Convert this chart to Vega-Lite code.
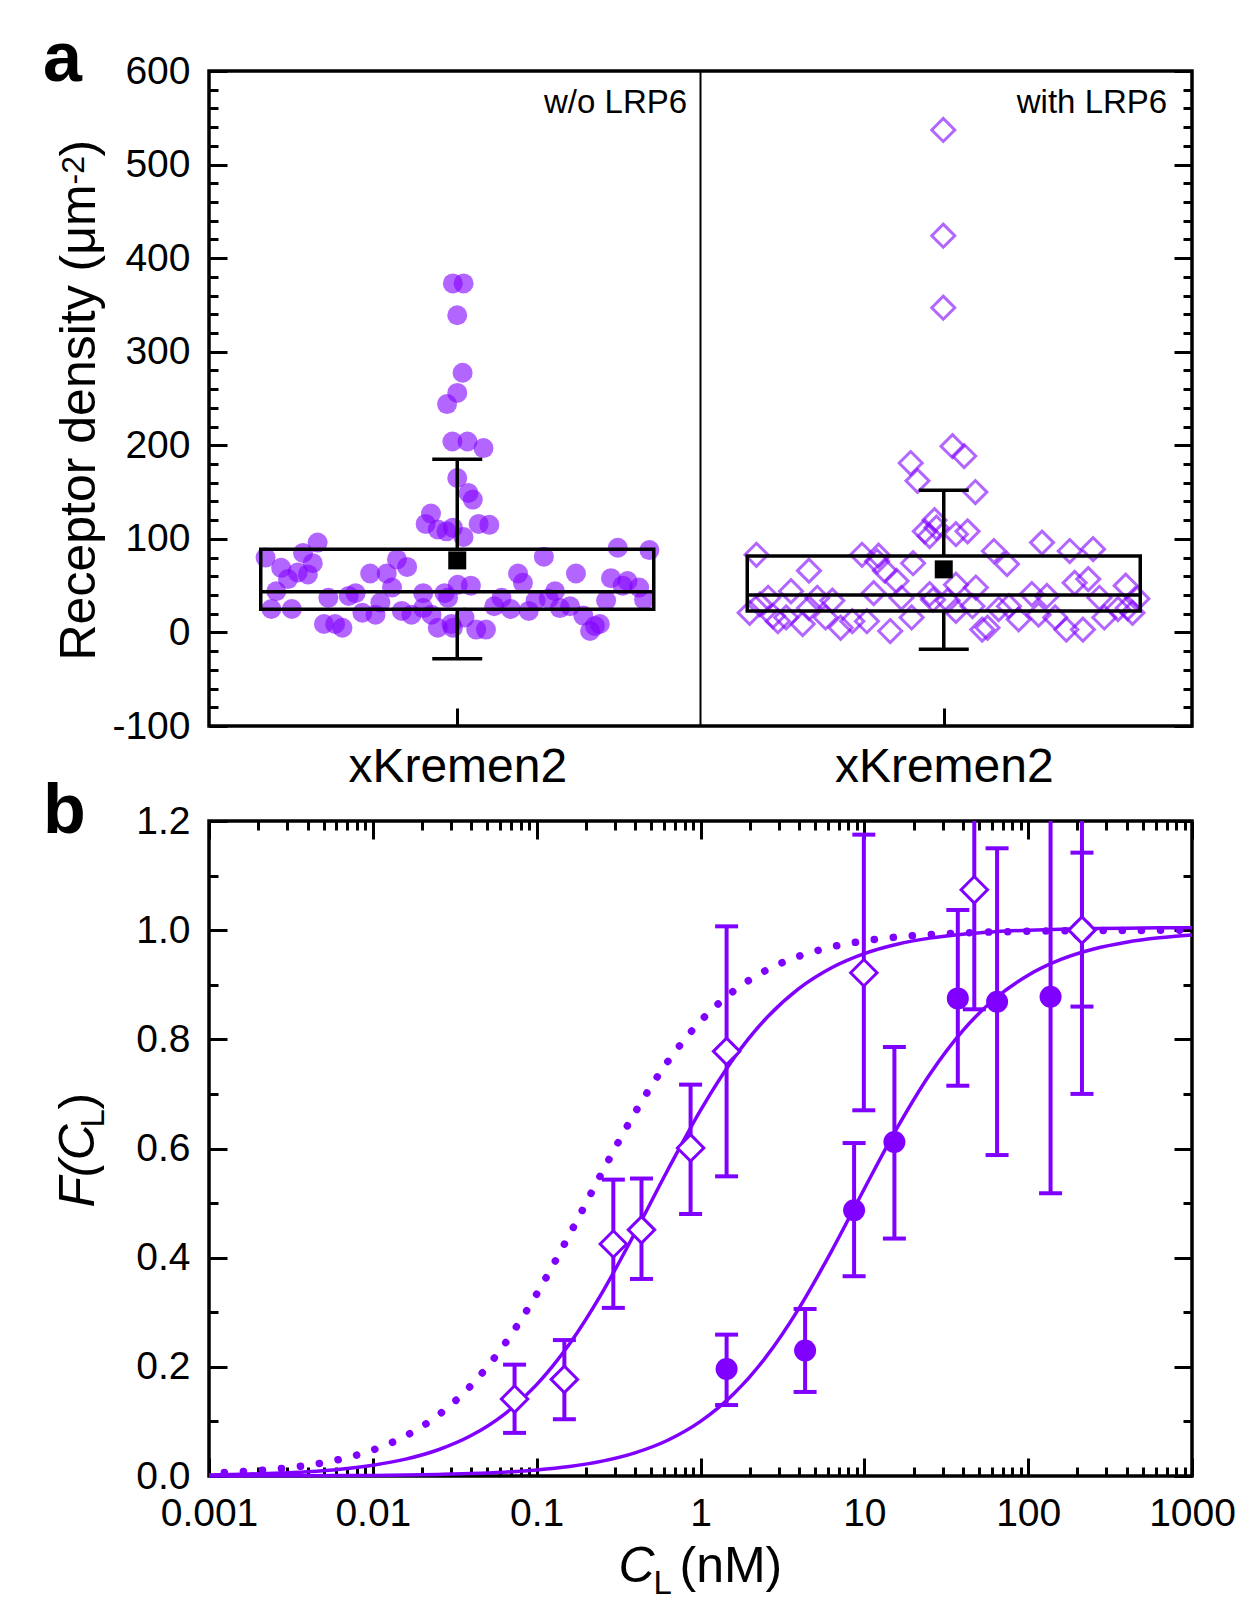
{
  "$schema": "https://vega.github.io/schema/vega-lite/v6.json",
  "background": "white",
  "padding": {"left": 41, "top": 23, "right": 10, "bottom": 10},
  "spacing": 95,
  "bounds": "flush",
  "config": {
    "font": "Liberation Sans",
    "view": {"stroke": "black", "strokeWidth": 3.5},
    "axis": {"grid": false, "domain": false, "tickColor": "black", "tickWidth": 3, "labelColor": "black", "labelFontSize": 39, "labelFont": "Liberation Sans", "titleFont": "Liberation Sans", "titleColor": "black", "titleFontWeight": "normal", "labelOverlap": false, "labelFlush": false, "labelBound": false, "labelLimit": 0},
    "title": {"color": "black", "font": "Liberation Sans"}
  },
  "datasets": {
    "dens": [
      {"g":"w/o LRP6","pos":0.491,"v":373},{"g":"w/o LRP6","pos":0.513,"v":373},{"g":"w/o LRP6","pos":0.500,"v":339},{"g":"w/o LRP6","pos":0.511,"v":277.5},{"g":"w/o LRP6","pos":0.500,"v":256},
      {"g":"w/o LRP6","pos":0.479,"v":244},{"g":"w/o LRP6","pos":0.490,"v":204},{"g":"w/o LRP6","pos":0.521,"v":204},{"g":"w/o LRP6","pos":0.554,"v":197},{"g":"w/o LRP6","pos":0.500,"v":165},
      {"g":"w/o LRP6","pos":0.523,"v":149},{"g":"w/o LRP6","pos":0.532,"v":142},{"g":"w/o LRP6","pos":0.446,"v":127},{"g":"w/o LRP6","pos":0.435,"v":116},{"g":"w/o LRP6","pos":0.460,"v":110},
      {"g":"w/o LRP6","pos":0.478,"v":108},{"g":"w/o LRP6","pos":0.491,"v":112},{"g":"w/o LRP6","pos":0.513,"v":102},{"g":"w/o LRP6","pos":0.544,"v":116},{"g":"w/o LRP6","pos":0.566,"v":115},
      {"g":"w/o LRP6","pos":0.106,"v":80},{"g":"w/o LRP6","pos":0.138,"v":69},{"g":"w/o LRP6","pos":0.183,"v":85},{"g":"w/o LRP6","pos":0.213,"v":96},{"g":"w/o LRP6","pos":0.203,"v":74},
      {"g":"w/o LRP6","pos":0.152,"v":57},{"g":"w/o LRP6","pos":0.172,"v":64},{"g":"w/o LRP6","pos":0.193,"v":62},{"g":"w/o LRP6","pos":0.128,"v":44},{"g":"w/o LRP6","pos":0.118,"v":25},
      {"g":"w/o LRP6","pos":0.160,"v":25},{"g":"w/o LRP6","pos":0.235,"v":37},{"g":"w/o LRP6","pos":0.291,"v":42},{"g":"w/o LRP6","pos":0.277,"v":39},{"g":"w/o LRP6","pos":0.321,"v":63},
      {"g":"w/o LRP6","pos":0.355,"v":63},{"g":"w/o LRP6","pos":0.376,"v":78},{"g":"w/o LRP6","pos":0.397,"v":70},{"g":"w/o LRP6","pos":0.366,"v":48},{"g":"w/o LRP6","pos":0.342,"v":32},
      {"g":"w/o LRP6","pos":0.305,"v":21},{"g":"w/o LRP6","pos":0.332,"v":19},{"g":"w/o LRP6","pos":0.386,"v":23},{"g":"w/o LRP6","pos":0.406,"v":19},{"g":"w/o LRP6","pos":0.430,"v":42},
      {"g":"w/o LRP6","pos":0.430,"v":26},{"g":"w/o LRP6","pos":0.447,"v":19},{"g":"w/o LRP6","pos":0.474,"v":42},{"g":"w/o LRP6","pos":0.501,"v":51},{"g":"w/o LRP6","pos":0.226,"v":9},
      {"g":"w/o LRP6","pos":0.249,"v":9},{"g":"w/o LRP6","pos":0.264,"v":5},{"g":"w/o LRP6","pos":0.460,"v":5},{"g":"w/o LRP6","pos":0.491,"v":5},{"g":"w/o LRP6","pos":0.830,"v":90.5},
      {"g":"w/o LRP6","pos":0.895,"v":88},{"g":"w/o LRP6","pos":0.678,"v":81},{"g":"w/o LRP6","pos":0.744,"v":63},{"g":"w/o LRP6","pos":0.625,"v":63},{"g":"w/o LRP6","pos":0.635,"v":53},
      {"g":"w/o LRP6","pos":0.816,"v":58},{"g":"w/o LRP6","pos":0.850,"v":55},{"g":"w/o LRP6","pos":0.874,"v":48},{"g":"w/o LRP6","pos":0.840,"v":50},{"g":"w/o LRP6","pos":0.884,"v":35},
      {"g":"w/o LRP6","pos":0.806,"v":34},{"g":"w/o LRP6","pos":0.701,"v":44},{"g":"w/o LRP6","pos":0.688,"v":36},{"g":"w/o LRP6","pos":0.661,"v":34},{"g":"w/o LRP6","pos":0.528,"v":50},
      {"g":"w/o LRP6","pos":0.481,"v":37},{"g":"w/o LRP6","pos":0.591,"v":37},{"g":"w/o LRP6","pos":0.576,"v":28},{"g":"w/o LRP6","pos":0.610,"v":25},{"g":"w/o LRP6","pos":0.647,"v":23},
      {"g":"w/o LRP6","pos":0.711,"v":26},{"g":"w/o LRP6","pos":0.732,"v":28},{"g":"w/o LRP6","pos":0.759,"v":18},{"g":"w/o LRP6","pos":0.773,"v":1.5},{"g":"w/o LRP6","pos":0.793,"v":9},
      {"g":"w/o LRP6","pos":0.783,"v":7},{"g":"w/o LRP6","pos":0.539,"v":3},{"g":"w/o LRP6","pos":0.559,"v":3},{"g":"w/o LRP6","pos":0.515,"v":16},{"g":"w/o LRP6","pos":0.488,"v":9},
      {"g":"with LRP6","pos":1.499,"v":537},{"g":"with LRP6","pos":1.499,"v":424},{"g":"with LRP6","pos":1.499,"v":347},{"g":"with LRP6","pos":1.518,"v":199},{"g":"with LRP6","pos":1.542,"v":188.5},
      {"g":"with LRP6","pos":1.432,"v":181},{"g":"with LRP6","pos":1.446,"v":162},{"g":"with LRP6","pos":1.565,"v":150},{"g":"with LRP6","pos":1.481,"v":120},{"g":"with LRP6","pos":1.461,"v":108},
      {"g":"with LRP6","pos":1.471,"v":103},{"g":"with LRP6","pos":1.549,"v":108},{"g":"with LRP6","pos":1.525,"v":105},{"g":"with LRP6","pos":1.485,"v":112},{"g":"with LRP6","pos":1.332,"v":83},
      {"g":"with LRP6","pos":1.366,"v":82},{"g":"with LRP6","pos":1.603,"v":87},{"g":"with LRP6","pos":1.115,"v":83},{"g":"with LRP6","pos":1.223,"v":66},{"g":"with LRP6","pos":1.363,"v":76},
      {"g":"with LRP6","pos":1.379,"v":66},{"g":"with LRP6","pos":1.403,"v":55},{"g":"with LRP6","pos":1.437,"v":74},{"g":"with LRP6","pos":1.139,"v":37},{"g":"with LRP6","pos":1.186,"v":44},
      {"g":"with LRP6","pos":1.240,"v":37},{"g":"with LRP6","pos":1.271,"v":34},{"g":"with LRP6","pos":1.356,"v":42},{"g":"with LRP6","pos":1.413,"v":37},{"g":"with LRP6","pos":1.471,"v":41},
      {"g":"with LRP6","pos":1.101,"v":21},{"g":"with LRP6","pos":1.159,"v":12},{"g":"with LRP6","pos":1.149,"v":17.5},{"g":"with LRP6","pos":1.210,"v":9},{"g":"with LRP6","pos":1.176,"v":16},
      {"g":"with LRP6","pos":1.257,"v":16},{"g":"with LRP6","pos":1.288,"v":5},{"g":"with LRP6","pos":1.312,"v":12},{"g":"with LRP6","pos":1.342,"v":12},{"g":"with LRP6","pos":1.390,"v":1.5},
      {"g":"with LRP6","pos":1.434,"v":16},{"g":"with LRP6","pos":1.223,"v":26},{"g":"with LRP6","pos":1.122,"v":30},{"g":"with LRP6","pos":1.702,"v":96},{"g":"with LRP6","pos":1.759,"v":87},
      {"g":"with LRP6","pos":1.807,"v":89},{"g":"with LRP6","pos":1.630,"v":73},{"g":"with LRP6","pos":1.769,"v":53},{"g":"with LRP6","pos":1.797,"v":57},{"g":"with LRP6","pos":1.874,"v":50},
      {"g":"with LRP6","pos":1.525,"v":51},{"g":"with LRP6","pos":1.566,"v":48},{"g":"with LRP6","pos":1.478,"v":35},{"g":"with LRP6","pos":1.525,"v":23},{"g":"with LRP6","pos":1.559,"v":28},
      {"g":"with LRP6","pos":1.613,"v":25},{"g":"with LRP6","pos":1.634,"v":28},{"g":"with LRP6","pos":1.681,"v":41},{"g":"with LRP6","pos":1.712,"v":39},{"g":"with LRP6","pos":1.654,"v":14},
      {"g":"with LRP6","pos":1.695,"v":19},{"g":"with LRP6","pos":1.729,"v":16},{"g":"with LRP6","pos":1.752,"v":3},{"g":"with LRP6","pos":1.786,"v":3},{"g":"with LRP6","pos":1.820,"v":37},
      {"g":"with LRP6","pos":1.830,"v":16},{"g":"with LRP6","pos":1.858,"v":25},{"g":"with LRP6","pos":1.878,"v":26},{"g":"with LRP6","pos":1.579,"v":3},{"g":"with LRP6","pos":1.590,"v":5},
      {"g":"with LRP6","pos":1.508,"v":34},{"g":"with LRP6","pos":1.898,"v":36},{"g":"with LRP6","pos":1.888,"v":21}
    ],
    "stats": [
      {"g":"w/o LRP6","c":0.5,"q1":24.7,"med":43.5,"q3":88.8,"mean":77,"lo":-28,"hi":185},
      {"g":"with LRP6","c":1.5,"q1":23,"med":40,"q3":81.6,"mean":67.4,"lo":-18,"hi":152}
    ],
    "curves": [
      {"k":"fit1","x":0.001,"F":0.0020},{"k":"fit1","x":0.001585,"F":0.0032},{"k":"fit1","x":0.002512,"F":0.0050},{"k":"fit1","x":0.003981,"F":0.0079},{"k":"fit1","x":0.00631,"F":0.0125},
      {"k":"fit1","x":0.01,"F":0.0197},{"k":"fit1","x":0.01585,"F":0.0309},{"k":"fit1","x":0.02512,"F":0.0481},{"k":"fit1","x":0.03981,"F":0.0741},{"k":"fit1","x":0.0631,"F":0.1126},
      {"k":"fit1","x":0.1,"F":0.1675},{"k":"fit1","x":0.1585,"F":0.2419},{"k":"fit1","x":0.2512,"F":0.3361},{"k":"fit1","x":0.3981,"F":0.4455},{"k":"fit1","x":0.631,"F":0.5607},
      {"k":"fit1","x":1,"F":0.6700},{"k":"fit1","x":1.585,"F":0.7640},{"k":"fit1","x":2.512,"F":0.8382},{"k":"fit1","x":3.981,"F":0.8929},{"k":"fit1","x":6.31,"F":0.9312},
      {"k":"fit1","x":10,"F":0.9571},{"k":"fit1","x":15.85,"F":0.9743},{"k":"fit1","x":25.12,"F":0.9854},{"k":"fit1","x":39.81,"F":0.9925},{"k":"fit1","x":63.1,"F":0.9971},
      {"k":"fit1","x":100,"F":1.0000},{"k":"fit1","x":158.5,"F":1.0018},{"k":"fit1","x":251.2,"F":1.0030},{"k":"fit1","x":398.1,"F":1.0037},{"k":"fit1","x":631,"F":1.0042},{"k":"fit1","x":1000,"F":1.0045},
      {"k":"fit2","x":0.001,"F":0.0001},{"k":"fit2","x":0.001585,"F":0.0002},{"k":"fit2","x":0.002512,"F":0.0003},{"k":"fit2","x":0.003981,"F":0.0004},{"k":"fit2","x":0.00631,"F":0.0007},
      {"k":"fit2","x":0.01,"F":0.0011},{"k":"fit2","x":0.01585,"F":0.0018},{"k":"fit2","x":0.02512,"F":0.0028},{"k":"fit2","x":0.03981,"F":0.0044},{"k":"fit2","x":0.0631,"F":0.0070},
      {"k":"fit2","x":0.1,"F":0.0110},{"k":"fit2","x":0.1585,"F":0.0173},{"k":"fit2","x":0.2512,"F":0.0272},{"k":"fit2","x":0.3981,"F":0.0424},{"k":"fit2","x":0.631,"F":0.0655},
      {"k":"fit2","x":1,"F":0.1000},{"k":"fit2","x":1.585,"F":0.1497},{"k":"fit2","x":2.512,"F":0.2182},{"k":"fit2","x":3.981,"F":0.3067},{"k":"fit2","x":6.31,"F":0.4121},
      {"k":"fit2","x":10,"F":0.5263},{"k":"fit2","x":15.85,"F":0.6378},{"k":"fit2","x":25.12,"F":0.7362},{"k":"fit2","x":39.81,"F":0.8156},{"k":"fit2","x":63.1,"F":0.8752},
      {"k":"fit2","x":100,"F":0.9174},{"k":"fit2","x":158.5,"F":0.9463},{"k":"fit2","x":251.2,"F":0.9654},{"k":"fit2","x":398.1,"F":0.9779},{"k":"fit2","x":631,"F":0.9859},{"k":"fit2","x":1000,"F":0.9911},
      {"k":"dotted","x":0.00124,"F":0.0062},{"k":"dotted","x":0.001585,"F":0.0079},{"k":"dotted","x":0.002512,"F":0.0124},{"k":"dotted","x":0.003981,"F":0.0195},{"k":"dotted","x":0.00631,"F":0.0306},
      {"k":"dotted","x":0.01,"F":0.0476},{"k":"dotted","x":0.01585,"F":0.0734},{"k":"dotted","x":0.02512,"F":0.1116},{"k":"dotted","x":0.03981,"F":0.1660},{"k":"dotted","x":0.0631,"F":0.2398},
      {"k":"dotted","x":0.1,"F":0.3333},{"k":"dotted","x":0.1585,"F":0.4421},{"k":"dotted","x":0.2512,"F":0.5567},{"k":"dotted","x":0.3981,"F":0.6656},{"k":"dotted","x":0.631,"F":0.7593},
      {"k":"dotted","x":1,"F":0.8333},{"k":"dotted","x":1.585,"F":0.8880},{"k":"dotted","x":2.512,"F":0.9263},{"k":"dotted","x":3.981,"F":0.9522},{"k":"dotted","x":6.31,"F":0.9693},
      {"k":"dotted","x":10,"F":0.9804},{"k":"dotted","x":15.85,"F":0.9875},{"k":"dotted","x":25.12,"F":0.9921},{"k":"dotted","x":39.81,"F":0.9950},{"k":"dotted","x":63.1,"F":0.9968},
      {"k":"dotted","x":100,"F":0.9980},{"k":"dotted","x":158.5,"F":0.9987},{"k":"dotted","x":251.2,"F":0.9992},{"k":"dotted","x":398.1,"F":0.9995},{"k":"dotted","x":631,"F":0.9997},{"k":"dotted","x":1000,"F":0.9998}
    ],
    "pts": [
      {"s":"diamond","c":0.0733,"F":0.141,"lo":0.079,"hi":0.204},
      {"s":"diamond","c":0.1476,"F":0.177,"lo":0.104,"hi":0.249},
      {"s":"diamond","c":0.2937,"F":0.425,"lo":0.308,"hi":0.543},
      {"s":"diamond","c":0.4363,"F":0.451,"lo":0.361,"hi":0.545},
      {"s":"diamond","c":0.870,"F":0.601,"lo":0.480,"hi":0.717},
      {"s":"diamond","c":1.443,"F":0.778,"lo":0.549,"hi":1.007},
      {"s":"diamond","c":9.93,"F":0.922,"lo":0.670,"hi":1.175},
      {"s":"diamond","c":46.9,"F":1.074,"lo":0.855,"hi":1.293},
      {"s":"diamond","c":213,"F":1.000,"lo":0.860,"hi":1.142},
      {"s":"circle","c":1.443,"F":0.196,"lo":0.130,"hi":0.259},
      {"s":"circle","c":4.35,"F":0.230,"lo":0.154,"hi":0.306},
      {"s":"circle","c":8.66,"F":0.487,"lo":0.366,"hi":0.610},
      {"s":"circle","c":15.26,"F":0.612,"lo":0.435,"hi":0.786},
      {"s":"circle","c":37.2,"F":0.875,"lo":0.715,"hi":1.037},
      {"s":"circle","c":64.6,"F":0.869,"lo":0.588,"hi":1.150},
      {"s":"circle","c":137,"F":0.878,"lo":0.518,"hi":1.238},
      {"s":"circle","c":213,"F":1.000,"lo":0.700,"hi":1.300}
    ]
  },
  "vconcat": [
    {
      "width": 983,
      "height": 655,
      "title": {"text": "a", "anchor": "start", "frame": "group", "fontSize": 70, "fontWeight": "bold", "align": "left", "baseline": "alphabetic", "offset": 0, "dx": -166, "dy": 99},
      "resolve": {"axis": {"x": "independent", "y": "independent"}},
      "layer": [
        {
          "data": {"name": "dens"},
          "transform": [{"filter": "datum.g === 'w/o LRP6'"}],
          "mark": {"type": "circle", "color": "#8000ff", "opacity": 0.6, "size": 400},
          "encoding": {
            "x": {"field": "pos", "type": "quantitative", "scale": {"domain": [0, 2], "nice": false, "zero": false},
                  "axis": {"orient": "bottom", "values": [0.5, 1.5], "labelExpr": "'xKremen2'", "tickSize": -18, "labelPadding": 35, "labelFontSize": 48, "title": null}},
            "y": {"field": "v", "type": "quantitative", "scale": {"domain": [-100, 600], "nice": false, "zero": false},
                  "axis": {"orient": "left", "values": [-100,-80,-60,-40,-20,0,20,40,60,80,100,120,140,160,180,200,220,240,260,280,300,320,340,360,380,400,420,440,460,480,500,520,540,560,580,600],
                           "labelExpr": "datum.value % 100 === 0 ? '' + datum.value : ''",
                           "tickSize": {"condition": {"test": "datum.value % 100 === 0", "value": -18}, "value": -9},
                           "labelPadding": 37,
                           "title": "Receptor density (μm", "titleX": -115, "titleY": 589, "titleAngle": 270, "titleAlign": "left", "titleBaseline": "alphabetic", "titleFontSize": 50}}
          }
        },
        {
          "data": {"name": "dens"},
          "transform": [{"filter": "datum.g === 'with LRP6'"}],
          "mark": {"type": "point", "shape": "diamond", "filled": false, "color": "#8000ff", "opacity": 0.6, "strokeWidth": 3, "size": 530},
          "encoding": {
            "x": {"field": "pos", "type": "quantitative", "axis": null},
            "y": {"field": "v", "type": "quantitative",
                  "axis": {"orient": "right", "values": [-100,-80,-60,-40,-20,0,20,40,60,80,100,120,140,160,180,200,220,240,260,280,300,320,340,360,380,400,420,440,460,480,500,520,540,560,580,600],
                           "labels": false, "title": null,
                           "tickSize": {"condition": {"test": "datum.value % 100 === 0", "value": -18}, "value": -9}}}
          }
        },
        {
          "data": {"name": "stats"},
          "mark": {"type": "bar", "filled": false, "color": "black", "strokeWidth": 3.5, "width": 393},
          "encoding": {
            "x": {"field": "c", "type": "quantitative", "axis": null},
            "y": {"field": "q1", "type": "quantitative",
                  "axis": {"orient": "left", "ticks": false, "labels": false, "domain": false, "values": [], "title": "-2", "titleX": -126, "titleY": 113, "titleAngle": 270, "titleAlign": "left", "titleBaseline": "alphabetic", "titleFontSize": 32}},
            "y2": {"field": "q3"}
          }
        },
        {
          "data": {"name": "stats"},
          "mark": {"type": "tick", "orient": "horizontal", "color": "black", "opacity": 1, "size": 393, "thickness": 3.5},
          "encoding": {
            "x": {"field": "c", "type": "quantitative", "axis": null},
            "y": {"field": "med", "type": "quantitative",
                  "axis": {"orient": "left", "ticks": false, "labels": false, "domain": false, "values": [], "title": ")", "titleX": -115, "titleY": 85, "titleAngle": 270, "titleAlign": "left", "titleBaseline": "alphabetic", "titleFontSize": 50}}
          }
        },
        {
          "data": {"name": "stats"},
          "mark": {"type": "rule", "color": "black", "strokeWidth": 3.5},
          "encoding": {
            "x": {"field": "c", "type": "quantitative", "axis": null},
            "y": {"field": "q3", "type": "quantitative", "axis": null},
            "y2": {"field": "hi"}
          }
        },
        {
          "data": {"name": "stats"},
          "mark": {"type": "rule", "color": "black", "strokeWidth": 3.5},
          "encoding": {
            "x": {"field": "c", "type": "quantitative", "axis": null},
            "y": {"field": "lo", "type": "quantitative", "axis": null},
            "y2": {"field": "q1"}
          }
        },
        {
          "data": {"name": "stats"},
          "mark": {"type": "tick", "orient": "horizontal", "color": "black", "opacity": 1, "size": 50, "thickness": 3.5},
          "encoding": {
            "x": {"field": "c", "type": "quantitative", "axis": null},
            "y": {"field": "hi", "type": "quantitative", "axis": null}
          }
        },
        {
          "data": {"name": "stats"},
          "mark": {"type": "tick", "orient": "horizontal", "color": "black", "opacity": 1, "size": 50, "thickness": 3.5},
          "encoding": {
            "x": {"field": "c", "type": "quantitative", "axis": null},
            "y": {"field": "lo", "type": "quantitative", "axis": null}
          }
        },
        {
          "data": {"name": "stats"},
          "mark": {"type": "point", "shape": "square", "filled": true, "color": "black", "opacity": 1, "size": 324},
          "encoding": {
            "x": {"field": "c", "type": "quantitative", "axis": null},
            "y": {"field": "mean", "type": "quantitative", "axis": null}
          }
        },
        {
          "data": {"values": [{}]},
          "mark": {"type": "rule", "color": "black", "strokeWidth": 2},
          "encoding": {"x": {"datum": 1, "type": "quantitative", "axis": null}}
        },
        {
          "data": {"values": [{}]},
          "mark": {"type": "text", "text": "w/o LRP6", "align": "right", "baseline": "alphabetic", "fontSize": 33, "color": "black"},
          "encoding": {
            "x": {"datum": 0.9725, "type": "quantitative", "axis": null},
            "y": {"datum": 555, "type": "quantitative", "axis": null}
          }
        },
        {
          "data": {"values": [{}]},
          "mark": {"type": "text", "text": "with LRP6", "align": "right", "baseline": "alphabetic", "fontSize": 33, "color": "black"},
          "encoding": {
            "x": {"datum": 1.9593, "type": "quantitative", "axis": null},
            "y": {"datum": 555, "type": "quantitative", "axis": null}
          }
        }
      ]
    },
    {
      "width": 983,
      "height": 655,
      "title": {"text": "b", "anchor": "start", "frame": "group", "fontSize": 70, "fontWeight": "bold", "align": "left", "baseline": "alphabetic", "offset": 0, "dx": -166, "dy": 101},
      "resolve": {"axis": {"x": "independent", "y": "independent"}},
      "layer": [
        {
          "data": {"name": "curves"},
          "transform": [{"filter": "datum.k !== 'dotted'"}],
          "mark": {"type": "line", "color": "#8000ff", "strokeWidth": 3.5, "interpolate": "monotone"},
          "encoding": {
            "detail": {"field": "k"},
            "x": {"field": "x", "type": "quantitative", "scale": {"type": "log", "domain": [0.001, 1000], "nice": false},
                  "axis": {"orient": "bottom",
                           "values": [0.001,0.002,0.003,0.004,0.005,0.006,0.007,0.008,0.009,0.01,0.02,0.03,0.04,0.05,0.06,0.07,0.08,0.09,0.1,0.2,0.3,0.4,0.5,0.6,0.7,0.8,0.9,1,2,3,4,5,6,7,8,9,10,20,30,40,50,60,70,80,90,100,200,300,400,500,600,700,800,900,1000],
                           "labelExpr": "abs(log(datum.value)/LN10 - round(log(datum.value)/LN10)) < 0.001 ? format(datum.value, '~g') : ''",
                           "tickSize": {"condition": {"test": "abs(log(datum.value)/LN10 - round(log(datum.value)/LN10)) < 0.001", "value": -18}, "value": -9},
                           "labelPadding": 36,
                           "title": "C", "titleFontStyle": "italic", "titleFontSize": 50, "titleX": 409, "titleY": 105, "titleAlign": "left", "titleBaseline": "alphabetic", "titleAngle": 0}},
            "y": {"field": "F", "type": "quantitative", "scale": {"domain": [0, 1.2], "nice": false, "zero": false},
                  "axis": {"orient": "left", "values": [0,0.1,0.2,0.3,0.4,0.5,0.6,0.7,0.8,0.9,1,1.1,1.2],
                           "labelExpr": "abs(datum.value*5 - round(datum.value*5)) < 0.001 ? format(datum.value, '.1f') : ''",
                           "tickSize": {"condition": {"test": "abs(datum.value*5 - round(datum.value*5)) < 0.001", "value": -18}, "value": -9},
                           "labelPadding": 37,
                           "title": "F(C", "titleFontStyle": "italic", "titleFontSize": 50, "titleX": -116, "titleY": 386, "titleAngle": 270, "titleAlign": "left", "titleBaseline": "alphabetic"}}
          }
        },
        {
          "data": {"name": "curves"},
          "transform": [{"filter": "datum.k === 'dotted'"}],
          "mark": {"type": "line", "color": "#8000ff", "strokeWidth": 7.5, "strokeCap": "round", "strokeDash": [0.1, 19], "interpolate": "monotone"},
          "encoding": {
            "x": {"field": "x", "type": "quantitative",
                  "axis": {"orient": "top", "labels": false, "title": null,
                           "values": [0.001,0.002,0.003,0.004,0.005,0.006,0.007,0.008,0.009,0.01,0.02,0.03,0.04,0.05,0.06,0.07,0.08,0.09,0.1,0.2,0.3,0.4,0.5,0.6,0.7,0.8,0.9,1,2,3,4,5,6,7,8,9,10,20,30,40,50,60,70,80,90,100,200,300,400,500,600,700,800,900,1000],
                           "tickSize": {"condition": {"test": "abs(log(datum.value)/LN10 - round(log(datum.value)/LN10)) < 0.001", "value": -18}, "value": -9}}},
            "y": {"field": "F", "type": "quantitative",
                  "axis": {"orient": "right", "labels": false, "title": null,
                           "values": [0,0.1,0.2,0.3,0.4,0.5,0.6,0.7,0.8,0.9,1,1.1,1.2],
                           "tickSize": {"condition": {"test": "abs(datum.value*5 - round(datum.value*5)) < 0.001", "value": -18}, "value": -9}}}
          }
        },
        {
          "data": {"name": "pts"},
          "mark": {"type": "rule", "color": "#8000ff", "strokeWidth": 4, "clip": true},
          "encoding": {
            "x": {"field": "c", "type": "quantitative",
                  "axis": {"orient": "bottom", "ticks": false, "labels": false, "domain": false, "values": [], "title": "L", "titleFontSize": 33, "titleX": 444, "titleY": 117, "titleAlign": "left", "titleBaseline": "alphabetic", "titleAngle": 0}},
            "y": {"field": "lo", "type": "quantitative",
                  "axis": {"orient": "left", "ticks": false, "labels": false, "domain": false, "values": [], "title": "L", "titleFontSize": 33, "titleX": -106, "titleY": 306, "titleAngle": 270, "titleAlign": "left", "titleBaseline": "alphabetic"}},
            "y2": {"field": "hi"}
          }
        },
        {
          "data": {"name": "pts"},
          "mark": {"type": "tick", "orient": "horizontal", "color": "#8000ff", "opacity": 1, "size": 23, "thickness": 4, "clip": true},
          "encoding": {
            "x": {"field": "c", "type": "quantitative",
                  "axis": {"orient": "bottom", "ticks": false, "labels": false, "domain": false, "values": [], "title": "(nM)", "titleFontSize": 50, "titleX": 470, "titleY": 105, "titleAlign": "left", "titleBaseline": "alphabetic", "titleAngle": 0}},
            "y": {"field": "hi", "type": "quantitative",
                  "axis": {"orient": "left", "ticks": false, "labels": false, "domain": false, "values": [], "title": ")", "titleFontSize": 50, "titleX": -116, "titleY": 288, "titleAngle": 270, "titleAlign": "left", "titleBaseline": "alphabetic"}}
          }
        },
        {
          "data": {"name": "pts"},
          "mark": {"type": "tick", "orient": "horizontal", "color": "#8000ff", "opacity": 1, "size": 23, "thickness": 4, "clip": true},
          "encoding": {
            "x": {"field": "c", "type": "quantitative", "axis": null},
            "y": {"field": "lo", "type": "quantitative", "axis": null}
          }
        },
        {
          "data": {"name": "pts"},
          "transform": [{"filter": "datum.s === 'circle'"}],
          "mark": {"type": "point", "shape": "circle", "filled": true, "color": "#8000ff", "opacity": 1, "size": 484},
          "encoding": {
            "x": {"field": "c", "type": "quantitative", "axis": null},
            "y": {"field": "F", "type": "quantitative", "axis": null}
          }
        },
        {
          "data": {"name": "pts"},
          "transform": [{"filter": "datum.s === 'diamond'"}],
          "mark": {"type": "point", "shape": "diamond", "filled": true, "fill": "white", "stroke": "#8000ff", "strokeWidth": 3, "opacity": 1, "size": 700},
          "encoding": {
            "x": {"field": "c", "type": "quantitative", "axis": null},
            "y": {"field": "F", "type": "quantitative", "axis": null}
          }
        }
      ]
    }
  ]
}
